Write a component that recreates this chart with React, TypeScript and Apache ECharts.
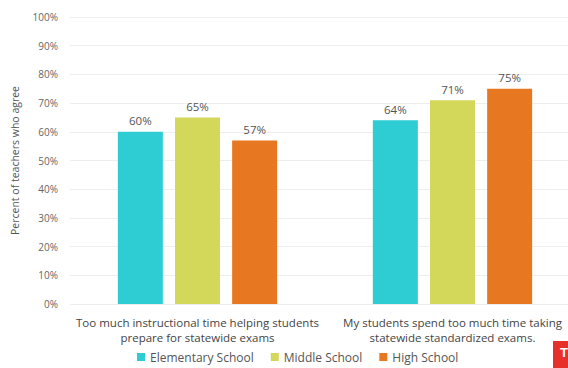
import React, { useEffect, useRef } from "react";
import * as echarts from "echarts";

const categories = [
  "Too much instructional time helping students\nprepare for statewide exams",
  "My students spend too much time taking\nstatewide standardized exams.",
];
const seriesNames = ["Elementary School", "Middle School", "High School"];
const elementary = [60, 64];
const middle = [65, 71];
const high = [57, 75];
const colors = ["#2ECCD3", "#D3D85B", "#E87722"];

export default function App() {
  const ref = useRef<HTMLDivElement>(null);
  useEffect(() => {
    const chart = echarts.init(ref.current!, undefined, { renderer: "svg" });
    const font = "Open Sans";
    const mk = (name: string, data: number[], color: string) => ({
      name,
      type: "bar",
      data,
      barWidth: 45,
      barGap: "27%",
      itemStyle: { color },
      label: {
        show: true,
        position: "top",
        formatter: "{c}%",
        color: "#555",
        fontSize: 11.5,
        fontFamily: font,
        distance: 5,
      },
    });
    chart.setOption({
      animation: false,
      textStyle: { fontFamily: font },
      grid: { left: 70, width: 510, top: 17, bottom: 64, containLabel: false, outerBoundsMode: "none" },
      legend: {
        bottom: 0,
        left: 132,
        itemWidth: 8,
        itemHeight: 8,
        itemGap: 17,
        itemTextGap: 3,
        icon: "rect",
        textStyle: { color: "#555", fontSize: 12, fontFamily: font },
        data: seriesNames,
      },
      xAxis: {
        type: "category",
        data: categories,
        axisLine: { show: false },
        axisTick: { show: false },
        axisLabel: {
          color: "#444",
          fontSize: 11.5,
          fontFamily: font,
          lineHeight: 15,
          margin: 11,
          interval: 0,
        },
      },
      yAxis: {
        type: "value",
        min: 0,
        max: 100,
        interval: 10,
        name: "Percent of teachers who agree",
        nameLocation: "middle",
        nameGap: 50,
        nameTextStyle: { color: "#555", fontSize: 10.5, fontFamily: font },
        axisLabel: { formatter: "{value}%", color: "#666", fontSize: 10, fontFamily: font, margin: 12 },
        splitLine: { lineStyle: { color: "#eee" } },
        axisLine: { show: false },
        axisTick: { show: false },
      },
      series: [
        mk(seriesNames[0], elementary, colors[0]),
        mk(seriesNames[1], middle, colors[1]),
        mk(seriesNames[2], high, colors[2]),
      ],
      graphic: [
        { type: "rect", left: 553, top: 341, shape: { width: 15, height: 27 }, style: { fill: "#E8302A" } },
        { type: "text", left: 560, top: 346, style: { text: "T", fill: "#fff", fontSize: 13, fontWeight: "bold" } },
      ],
    });
    return () => chart.dispose();
  }, []);
  return <div ref={ref} style={{ width: 568, height: 368, position: "absolute", left: 0, top: 0 }} />;
}
